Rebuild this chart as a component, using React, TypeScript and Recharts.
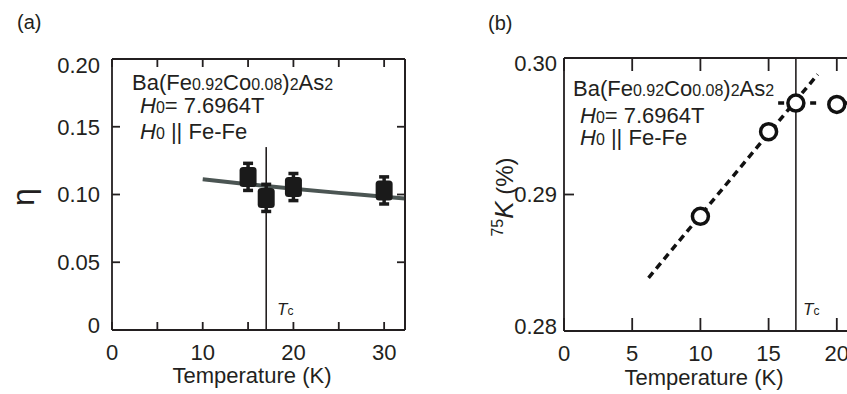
import React from 'react';
import { ComposedChart, Scatter, Line, XAxis, YAxis, ErrorBar, ReferenceLine } from 'recharts';

// ---- Panel (a): asymmetry parameter eta ----
const etaTemps = [15, 17, 20, 30];
const etaValues = [0.113, 0.0975, 0.1055, 0.103];
const etaErrors = [0.01, 0.01, 0.01, 0.01];
const etaFitTemps = [10, 15, 20, 25, 30, 32.3];
const etaFitValues = [0.1112, 0.1076, 0.1043, 0.1012, 0.0984, 0.097];
const etaXDomain = [0, 32.3];
const etaYDomain = [0, 0.2];
const etaXTicks = [0, 5, 10, 15, 20, 25, 30];
const etaXLabels = ['0', '', '10', '', '20', '', '30'];
const etaYTicks = [0, 0.05, 0.1, 0.15, 0.2];
const etaYLabels = ['0', '0.05', '0.10', '0.15', '0.20'];

// ---- Panel (b): Knight shift 75K ----
const kTemps = [10, 15, 17, 20];
const kValues = [0.2884, 0.2946, 0.2967, 0.2966];
const kFitTemps = [6.2, 18.6];
const kFitValues = [0.2839, 0.2988];
const kFlatTemps = [15.7, 25];
const kFlatValues = [0.2967, 0.2967];
const kXDomain = [0, 25];
const kYDomain = [0.28, 0.3];
const kXTicks = [0, 5, 10, 15, 20, 25];
const kXLabels = ['0', '5', '10', '15', '20', '25'];
const kYTicks = [0.28, 0.29, 0.3];
const kYLabels = ['0.28', '0.29', '0.30'];

const Tc = 17;

const INK = '#231f20';
const FONT = '"Liberation Sans", Arial, Helvetica, sans-serif';

const etaData = etaTemps.map((x, i) => ({ x, y: etaValues[i], err: etaErrors[i] }));
const etaFit = etaFitTemps.map((x, i) => ({ x, y: etaFitValues[i] }));
const kData = kTemps.map((x, i) => ({ x, y: kValues[i] }));
const kFit = kFitTemps.map((x, i) => ({ x, y: kFitValues[i] }));
const kFlat = kFlatTemps.map((x, i) => ({ x, y: kFlatValues[i] }));

const A_TICK = 8;
const B_XTICK = 13;
const A_MARGIN = { top: 59, right: 5, bottom: 34, left: 12 };
const B_MARGIN = { top: 58, right: 15, bottom: 33, left: 44 };

// Bottom-axis tick label that also draws the matching inward tick on the top frame edge.
const makeXTick = (ticks: number[], labels: string[], plotTop: number, len: number) => (props: any) => {
  const { x, y, payload } = props;
  const idx = ticks.findIndex((t) => Math.abs(t - payload.value) < 1e-9);
  const label = idx >= 0 ? labels[idx] : '';
  return (
    <g>
      <line x1={x} x2={x} y1={plotTop} y2={plotTop + len} stroke={INK} strokeWidth={1.8} />
      <text x={x} y={y} dy="0.71em" textAnchor="middle" fontSize={22} fill={INK} fontFamily={FONT}>
        {label}
      </text>
    </g>
  );
};

const makeYTick = (ticks: number[], labels: string[], topShift: number, botShift: number) => (props: any) => {
  const { x, y, payload } = props;
  const idx = ticks.findIndex((t) => Math.abs(t - payload.value) < 1e-9);
  const label = idx >= 0 ? labels[idx] : '';
  let shift = 0;
  if (idx === ticks.length - 1) shift = topShift;
  if (idx === 0) shift = botShift;
  return (
    <text x={x} y={y + shift} dy="0.355em" textAnchor="end" fontSize={22} fill={INK} fontFamily={FONT}>
      {label}
    </text>
  );
};

const EmptyTick = () => <g />;

const SquareMarker = (props: any) => {
  const { cx, cy } = props;
  if (cx == null || cy == null) return null;
  return <rect x={cx - 8.5} y={cy - 10} width={17} height={20} rx={3.5} fill="#1a1a1a" />;
};

const CircleMarker = (props: any) => {
  const { cx, cy } = props;
  if (cx == null || cy == null) return null;
  return <circle cx={cx} cy={cy} r={8} fill="#ffffff" stroke="#111111" strokeWidth={3.5} />;
};

const NoMarker = () => <g />;

const axisLine = { stroke: INK, strokeWidth: 1.8 };
const tickLine = { stroke: INK, strokeWidth: 1.8 };

function PanelA() {
  return (
    <ComposedChart width={420} height={394} margin={A_MARGIN}>
      <XAxis
        type="number"
        dataKey="x"
        domain={etaXDomain}
        ticks={etaXTicks}
        interval={0}
        allowDataOverflow
        height={30}
        stroke={INK}
        axisLine={axisLine}
        tickLine={tickLine}
        tickSize={-A_TICK}
        tickMargin={22}
        tick={makeXTick(etaXTicks, etaXLabels, A_MARGIN.top, A_TICK)}
      />
      <YAxis
        type="number"
        dataKey="y"
        domain={etaYDomain}
        ticks={etaYTicks}
        interval={0}
        allowDataOverflow
        width={100}
        stroke={INK}
        axisLine={axisLine}
        tickLine={tickLine}
        tickSize={-A_TICK}
        tickMargin={20}
        tick={makeYTick(etaYTicks, etaYLabels, 6, -5)}
      />
      <YAxis
        yAxisId="right"
        orientation="right"
        type="number"
        dataKey="y"
        domain={etaYDomain}
        ticks={etaYTicks}
        interval={0}
        allowDataOverflow
        width={10}
        stroke={INK}
        axisLine={axisLine}
        tickLine={tickLine}
        tickSize={-A_TICK}
        tick={EmptyTick}
      />
      <ReferenceLine y={etaYDomain[1]} stroke={INK} strokeWidth={1.8} ifOverflow="visible" />
      <ReferenceLine x={etaXDomain[1]} stroke={INK} strokeWidth={1.8} ifOverflow="visible" />
      <Line
        data={etaFit}
        dataKey="y"
        type="monotone"
        stroke="#4b5553"
        strokeWidth={4}
        dot={false}
        activeDot={false}
        isAnimationActive={false}
      />
      <ReferenceLine
        segment={[{ x: Tc, y: 0.135 }, { x: Tc, y: 0 }]}
        stroke={INK}
        strokeWidth={1.6}
      />
      <Scatter data={etaData} dataKey="y" shape={<SquareMarker />} isAnimationActive={false}>
        <ErrorBar dataKey="err" direction="y" width={5} stroke="#1a1a1a" strokeWidth={3.5} isAnimationActive={false} />
      </Scatter>
      <Scatter data={etaData} dataKey="y" yAxisId="right" shape={<NoMarker />} isAnimationActive={false} />
    </ComposedChart>
  );
}

function PanelB() {
  return (
    <ComposedChart width={500} height={394} margin={B_MARGIN}>
      <XAxis
        type="number"
        dataKey="x"
        domain={kXDomain}
        ticks={kXTicks}
        interval={0}
        allowDataOverflow
        height={30}
        stroke={INK}
        axisLine={axisLine}
        tickLine={tickLine}
        tickSize={-B_XTICK}
        tickMargin={27}
        tick={makeXTick(kXTicks, kXLabels, B_MARGIN.top, B_XTICK)}
      />
      <YAxis
        type="number"
        dataKey="y"
        domain={kYDomain}
        ticks={kYTicks}
        interval={0}
        allowDataOverflow
        width={100}
        stroke={INK}
        axisLine={axisLine}
        tickLine={tickLine}
        tickSize={-10}
        tickMargin={17}
        tick={makeYTick(kYTicks, kYLabels, 5, -5)}
      />
      <ReferenceLine y={kYDomain[1]} stroke={INK} strokeWidth={1.8} ifOverflow="visible" />
      <ReferenceLine x={Tc} stroke={INK} strokeWidth={1.6} />
      <Line
        data={kFit}
        dataKey="y"
        type="linear"
        stroke="#111111"
        strokeWidth={3.5}
        strokeDasharray="7 5"
        dot={false}
        activeDot={false}
        isAnimationActive={false}
      />
      <Line
        data={kFlat}
        dataKey="y"
        type="linear"
        stroke="#111111"
        strokeWidth={3.5}
        strokeDasharray="6 26"
        dot={false}
        activeDot={false}
        isAnimationActive={false}
      />
      <Scatter data={kData} dataKey="y" shape={<CircleMarker />} isAnimationActive={false} />
    </ComposedChart>
  );
}

export default function App() {
  return (
    <div
      style={{
        position: 'fixed',
        left: 0,
        top: 0,
        width: 847,
        height: 394,
        overflow: 'hidden',
        background: '#ffffff',
        fontFamily: FONT,
      }}
    >
      <div style={{ position: 'absolute', left: 0, top: 0 }}>
        <PanelA />
      </div>
      <div style={{ position: 'absolute', left: 420, top: 0 }}>
        <PanelB />
      </div>
      <svg
        width={847}
        height={394}
        style={{ position: 'absolute', left: 0, top: 0, pointerEvents: 'none', background: 'transparent' }}
        fontFamily={FONT}
      >
        {/* panel labels */}
        <text x={17} y={29} fontSize={20} fill={INK}>(a)</text>
        <text x={488} y={30} fontSize={20} fill={INK}>(b)</text>

        {/* panel (a) annotations */}
        <text x={132} y={90} fontSize={22} fill={INK}>
          Ba(Fe<tspan fontSize={16}>0.92</tspan>Co<tspan fontSize={16}>0.08</tspan>)<tspan fontSize={16}>2</tspan>As<tspan fontSize={16}>2</tspan>
        </text>
        <text x={140} y={113} fontSize={22} fill={INK}>
          <tspan fontStyle="italic">H</tspan><tspan fontSize={16}>0</tspan>= 7.6964T
        </text>
        <text x={140} y={139} fontSize={22} fill={INK}>
          <tspan fontStyle="italic">H</tspan><tspan fontSize={16}>0</tspan> || Fe-Fe
        </text>
        <text x={277} y={315} fontSize={17} fill={INK}>
          <tspan fontStyle="italic">T</tspan><tspan fontSize={12}>c</tspan>
        </text>

        {/* panel (a) axis titles */}
        <text transform="translate(23,197) rotate(-90)" textAnchor="middle" dominantBaseline="central" fontSize={32} fill={INK}>η</text>
        <text x={252} y={383} textAnchor="middle" fontSize={22} fill={INK}>Temperature (K)</text>

        {/* panel (b) annotations */}
        <text x={573} y={96} fontSize={22} fill={INK}>
          Ba(Fe<tspan fontSize={16}>0.92</tspan>Co<tspan fontSize={16}>0.08</tspan>)<tspan fontSize={16}>2</tspan>As<tspan fontSize={16}>2</tspan>
        </text>
        <text x={580} y={123} fontSize={22} fill={INK}>
          <tspan fontStyle="italic">H</tspan><tspan fontSize={16}>0</tspan>= 7.6964T
        </text>
        <text x={580} y={145} fontSize={22} fill={INK}>
          <tspan fontStyle="italic">H</tspan><tspan fontSize={16}>0</tspan> || Fe-Fe
        </text>
        <text x={803} y={315} fontSize={17} fill={INK}>
          <tspan fontStyle="italic">T</tspan><tspan fontSize={12}>c</tspan>
        </text>

        {/* panel (b) axis titles */}
        <text transform="translate(513,197) rotate(-90)" textAnchor="middle" fontSize={24} fill={INK}>
          <tspan fontSize={16} dy={-10}>75</tspan><tspan fontStyle="italic" fontSize={26} dy={10}>K</tspan><tspan> (%)</tspan>
        </text>
        <text x={704} y={385} textAnchor="middle" fontSize={22} fill={INK}>Temperature (K)</text>
      </svg>
    </div>
  );
}
